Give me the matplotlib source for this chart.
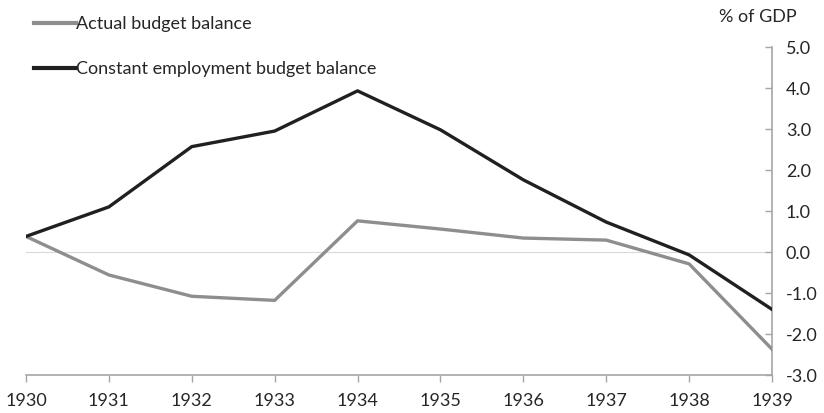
import matplotlib.pyplot as plt

# Data (% of GDP)
years = [1930, 1931, 1932, 1933, 1934, 1935, 1936, 1937, 1938, 1939]
actual = [0.38, -0.56, -1.08, -1.18, 0.76, 0.56, 0.34, 0.29, -0.29, -2.37]
constant_emp = [0.38, 1.1, 2.57, 2.95, 3.93, 2.98, 1.76, 0.73, -0.07, -1.4]
yticks = [-3.0, -2.0, -1.0, 0.0, 1.0, 2.0, 3.0, 4.0, 5.0]

plt.rcParams['font.family'] = ['Lato', 'DejaVu Sans']
fs = 13

fig = plt.figure(figsize=(8.24, 4.13), dpi=100)
ax = fig.add_axes([26 / 824, 1 - 375 / 413, (772 - 26) / 824, (375 - 47) / 413])

axis_grey = '#a6a6a6'
text_col = '#262626'

ax.axhline(0, color='#d9d9d9', lw=0.8, zorder=1)
ax.plot(years, actual, color='#8e8e90', lw=2.4, label='Actual budget balance', zorder=3)
ax.plot(years, constant_emp, color='#231f20', lw=2.4,
        label='Constant employment budget balance', zorder=4)

ax.set_xlim(1930, 1939)
ax.set_ylim(-3, 5)
ax.set_xticks(years)
ax.set_xticklabels([str(y) for y in years])
ax.set_yticks(yticks)
ax.set_yticklabels([f'{v:.1f}' for v in yticks])

ax.yaxis.tick_right()
for side in ['top', 'left']:
    ax.spines[side].set_visible(False)
for side in ['right', 'bottom']:
    ax.spines[side].set_color(axis_grey)
    ax.spines[side].set_linewidth(1.2)

ax.tick_params(axis='y', direction='in', length=5, color=axis_grey, width=1.0,
               pad=10, labelcolor=text_col, labelsize=fs)
ax.tick_params(axis='x', direction='out', length=5, color=axis_grey, width=1.0,
               pad=8, labelcolor=text_col, labelsize=fs)

fig.text(797 / 824, 1 - 17 / 413, '% of GDP', ha='right', va='center',
         fontsize=fs, color=text_col)

leg = fig.legend(loc='upper left', bbox_to_anchor=(34 / 824, 1 - 16 / 413),
                 frameon=False, handlelength=2.3, handletextpad=0.05,
                 labelspacing=1.6, fontsize=fs, borderaxespad=0, borderpad=0)
for t in leg.get_texts():
    t.set_color(text_col)
for h in leg.get_lines():
    h.set_linewidth(3.0)

plt.savefig('out.png', dpi=100)
